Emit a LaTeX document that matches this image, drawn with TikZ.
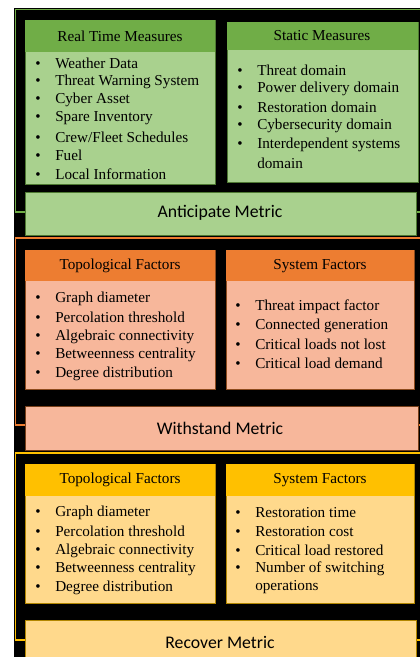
\documentclass[tikz,border=0pt]{standalone}
\usepackage{fontspec}
\setmainfont{Liberation Serif}
\newfontfamily\listfont{Liberation Serif}
\newfontfamily\metricfont{Carlito}
\definecolor{antdark}{RGB}{112, 173, 71}
\definecolor{antlight}{RGB}{169, 209, 142}
\definecolor{witdark}{RGB}{237, 125, 49}
\definecolor{witlight}{RGB}{247, 183, 155}
\definecolor{recdark}{RGB}{255, 192, 0}
\definecolor{reclight}{RGB}{255, 217, 140}
\usetikzlibrary{positioning}
\newcommand{\bl}{\llap{\textbullet\hspace{11pt}}}

\begin{document}
\begin{tikzpicture}[x=0.75pt, y=-0.75pt,
    frame/.style={line width=1.4pt},
    panel/.style={line width=0.6pt},
    head/.style={inner sep=0pt, font=\listfont\fontsize{11.4}{14}\selectfont},
    item/.style={anchor=west, inner sep=0pt, font=\listfont\fontsize{11.4}{14}\selectfont},
    metric/.style={inner sep=0pt, font=\metricfont\fontsize{13.3}{16}\selectfont}]
  \useasboundingbox (0, 0) rectangle (420, 657);
  \fill[black] (14, 8) rectangle (420, 657);

  % Anticipate: measures
  \draw[antdark, frame] (15.5, 9.5) rectangle (424, 212);
  \filldraw[fill=antlight, draw=antdark!70!black, panel] (25, 20) rectangle (215, 184);
  \fill[antdark] (25, 20) rectangle (215, 52);
  \node[head] (rthead) at (120, 36) {Real Time Measures};
  \foreach \t [count=\i] in {Weather Data, Threat Warning System, Cyber Asset,
      Spare Inventory, Crew/Fleet Schedules, Fuel, Local Information}
    \node[item] (rt\i) at (55, {63 + 18.5*(\i-1)}) {\bl\t};

  \filldraw[fill=antlight, draw=antdark!70!black, panel] (227, 22) rectangle (418, 182);
  \fill[antdark] (227, 22) rectangle (418, 50);
  \node[head] (sthead) at (322, 36) {Static Measures};
  \foreach \t [count=\i] in {\bl Threat domain, \bl Power delivery domain,
      \bl Restoration domain, \bl Cybersecurity domain,
      \bl Interdependent systems, domain}
    \node[item] (st\i) at (257, {70 + 18.7*(\i-1)}) {\t};

  \filldraw[fill=antlight, draw=antdark!70!black, panel] (25, 192) rectangle (416, 235);
  \node[metric] (antmetric) at (220, 213) {Anticipate Metric};

  % Withstand: factors
  \draw[witdark, frame] (15.5, 238) rectangle (424, 425);
  \filldraw[fill=witlight, draw=witdark!60!black, panel] (25, 250) rectangle (215, 389);
  \fill[witdark] (25, 250) rectangle (215, 281);
  \node[head] (wtophead) at (120, 266) {Topological Factors};
  \foreach \t [count=\i] in {Graph diameter, Percolation threshold,
      Algebraic connectivity, Betweenness centrality, Degree distribution}
    \node[item] (wtop\i) at (55, {299 + 18.7*(\i-1)}) {\bl\t};

  \filldraw[fill=witlight, draw=witdark!60!black, panel] (226, 250) rectangle (414, 389);
  \fill[witdark] (226, 250) rectangle (414, 281);
  \node[head] (wsyshead) at (320, 266) {System Factors};
  \foreach \t [count=\i] in {Threat impact factor, Connected generation,
      Critical loads not lost, Critical load demand}
    \node[item] (wsys\i) at (255, {307 + 18.7*(\i-1)}) {\bl\t};

  \filldraw[fill=witlight, draw=witdark!50!black, panel] (25, 406) rectangle (418, 450);
  \node[metric] (witmetric) at (220, 428) {Withstand Metric};

  % Recover: factors
  \draw[recdark, frame] (15.5, 453) rectangle (424, 640);
  \filldraw[fill=reclight, draw=recdark!70!black, panel] (25, 464) rectangle (215, 603);
  \fill[recdark] (25, 464) rectangle (215, 496);
  \node[head] (rtophead) at (120, 480) {Topological Factors};
  \foreach \t [count=\i] in {Graph diameter, Percolation threshold,
      Algebraic connectivity, Betweenness centrality, Degree distribution}
    \node[item] (rtop\i) at (55, {513 + 18.7*(\i-1)}) {\bl\t};

  \filldraw[fill=reclight, draw=recdark!70!black, panel] (226, 464) rectangle (414, 603);
  \fill[recdark] (226, 464) rectangle (414, 496);
  \node[head] (rsyshead) at (320, 480) {System Factors};
  \foreach \t [count=\i] in {\bl Restoration time, \bl Restoration cost,
      \bl Critical load restored, \bl Number of switching, operations}
    \node[item] (rsys\i) at (255, {513 + 18.6*(\i-1)}) {\t};

  \filldraw[fill=reclight, draw=recdark!70!black, panel] (25, 620) rectangle (416, 670);
  \node[metric] (recmetric) at (220, 642) {Recover Metric};
\end{tikzpicture}
\end{document}
